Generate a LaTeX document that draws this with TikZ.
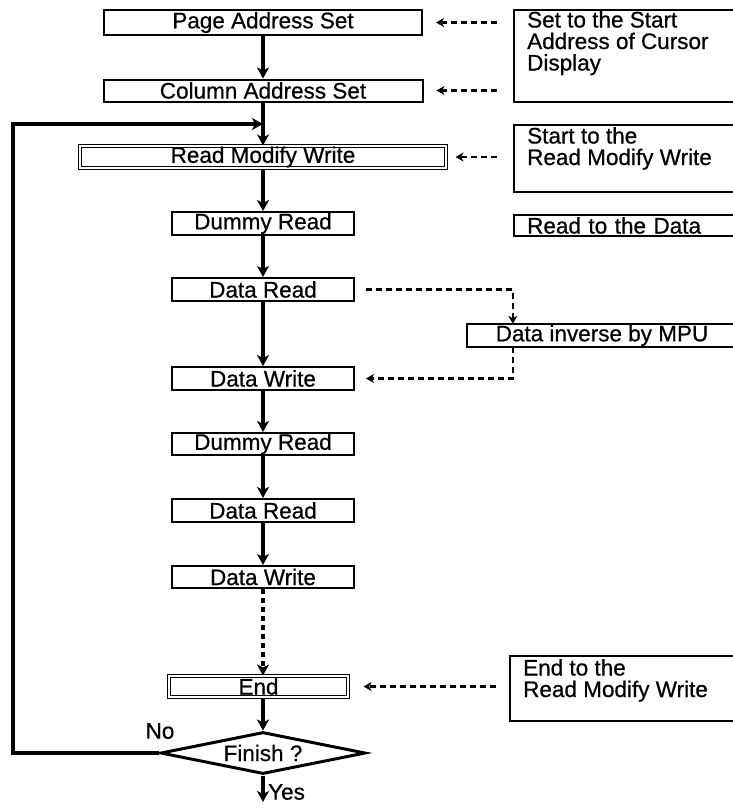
\documentclass[tikz,border=0pt]{standalone}
\usepackage{fontspec}
\setmainfont{Liberation Sans}[FakeBold=0.6]
\usetikzlibrary{arrows.meta,shapes.geometric,calc}
\begin{document}
\begin{tikzpicture}[x=1pt,y=-1pt,
  every node/.style={font=\fontsize{22.5}{20}\selectfont, inner sep=0pt},
  stepbox/.style={draw, line width=2pt, minimum height=23pt, minimum width=182pt},
  dblbox/.style={draw, line width=1.1pt, double, double distance=2.2pt},
  framebox/.style={anchor=north west},
  note/.style={align=left, anchor=north west, font=\fontsize{22.5}{21.5}\selectfont},
  frame/.style={line width=2pt},
  arr/.style={line width=3.5pt, -{Stealth[length=11pt,width=12pt,inset=3pt]}},
  dotarr/.style={line width=3.5pt, dash pattern=on 5pt off 4pt, -{Stealth[length=11pt,width=12pt,inset=3pt]}},
  dasharr/.style={line width=2.2pt, dash pattern=on 6pt off 4pt, -{Stealth[length=8pt,width=9pt,inset=2.5pt]}},
]
\useasboundingbox (0,0) rectangle (733,808);

% main column
\node[stepbox, minimum width=318pt, minimum height=25pt] (page) at (263,22.5) {Page Address Set};
\node[stepbox, minimum width=319pt, minimum height=22pt] (col) at (263,90.5) {Column Address Set};
\node[dblbox, minimum width=366pt, minimum height=22pt] (rmw) at (263,157) {Read Modify Write};
\node[stepbox] (dr1) at (263,223.5) {Dummy Read};
\node[stepbox] (rd1) at (263,289.5) {Data Read};
\node[stepbox] (wr1) at (263,378.5) {Data Write};
\node[stepbox, minimum height=22pt] (dr2) at (263,444) {Dummy Read};
\node[stepbox] (rd2) at (263,510.5) {Data Read};
\node[stepbox, minimum height=22pt] (wr2) at (263,577) {Data Write};
\node[dblbox, minimum width=179pt, minimum height=21pt] (end) at (258.5,686.5) {End};
\node[diamond, draw, line width=3pt, aspect=4.9, minimum width=205pt, minimum height=42pt] (fin) at (263,753) {Finish ?};
\node (no) at (160,731) {No};
\node[anchor=west] (yes) at (268,792) {Yes};
\coordinate (yesend) at (263,802);
\coordinate (lc) at (13,124);
\coordinate (jn) at (263,124);

% right side frames
\node[framebox, minimum width=222pt, minimum height=92pt] (r1) at (514,10) {};
\node[framebox, minimum width=222pt, minimum height=67pt] (r2) at (514,125) {};
\node[framebox, minimum width=226pt, minimum height=65pt] (r3) at (510,656) {};
\node[anchor=west, text width=206pt, inner xsep=13pt, minimum height=21pt, align=left] (rdd) at (514,225.5) {Read to the Data};
\node[minimum width=270pt, minimum height=23pt] (mpu) at (602,335.5) {Data inverse by MPU};
\foreach \b in {r1,r2,r3,rdd,mpu}
  \draw[frame] (\b.north east) -- (\b.north west) -- (\b.south west) -- (\b.south east);
\node[note] (t1) at (527,11) {Set to the Start\\Address of Cursor\\Display};
\node[note] (t2) at (527,127) {Start to the\\Read Modify Write};
\node[note] (t3) at (523,659) {End to the\\Read Modify Write};

% solid flow
\draw[arr] (page.south) -- (col.north);
\draw[arr] (col.south) -- (rmw.north);
\draw[arr] (rmw.south) -- (dr1.north);
\draw[arr] (dr1.south) -- (rd1.north);
\draw[arr] (rd1.south) -- (wr1.north);
\draw[arr] (wr1.south) -- (dr2.north);
\draw[arr] (dr2.south) -- (rd2.north);
\draw[arr] (rd2.south) -- (wr2.north);
\draw[dotarr] (wr2.south) -- (wr2.south |- end.north);
\draw[arr] (end.south -| fin.north) -- (fin.north);
\draw[arr] (fin.south) -- (yesend);
\draw[arr] (fin.west) -| (lc) -- (jn);

% dashed notes
\draw[dasharr] ($(r1.west |- page.east)+(-17,0)$) -- ($(page.east)+(13,0)$);
\draw[dasharr] ($(r1.west |- col.east)+(-17,0)$) -- ($(col.east)+(13,0)$);
\draw[dasharr] ($(r2.west |- rmw.east)+(-17,0)$) -- ($(rmw.east)+(9,0)$);
\draw[dasharr] ($(rd1.east)+(11,0)$) -| ($(mpu.north west)+(46,0)$);
\draw[dasharr] ($(mpu.south west)+(46,0)$) |- ($(wr1.east)+(11,0)$);
\draw[dasharr] ($(r3.west |- end.east)+(-14,0)$) -- ($(end.east)+(15,0)$);
\end{tikzpicture}
\end{document}
